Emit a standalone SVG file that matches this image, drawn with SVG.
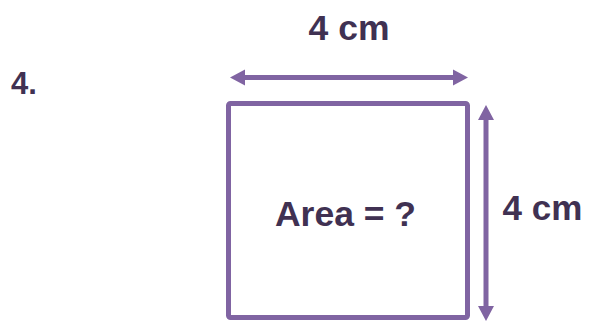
<svg xmlns="http://www.w3.org/2000/svg" width="590" height="324" viewBox="0 0 590 324">
<style>
.t{font-family:"Liberation Sans",Arial,sans-serif;font-weight:bold;fill:#403152}
.ln{stroke:#8064A2;stroke-width:5;fill:none}
.ah{fill:#8064A2}
</style>
<rect width="590" height="324" fill="#fff"/>
<text class="t" x="11" y="94" font-size="31">4.</text>
<g id="square">
<rect class="ln" x="228.5" y="103.5" width="239" height="214" rx="2"/>
<text class="t" x="345.5" y="226" font-size="35.5" text-anchor="middle">Area = ?</text>
</g>
<g id="connectors">
<g id="width-arrow">
<line class="ln" x1="243" y1="77.5" x2="455" y2="77.5"/>
<polygon class="ah" points="230,77.5 245,69.5 245,85.5"/>
<polygon class="ah" points="468,77.5 453,69.5 453,85.5"/>
</g>
<g id="height-arrow">
<line class="ln" x1="486" y1="118" x2="486" y2="308"/>
<polygon class="ah" points="486,105 478,120 494,120"/>
<polygon class="ah" points="486,321 478,306 494,306"/>
</g>
</g>
<text class="t" x="349" y="40" font-size="35.5" text-anchor="middle">4 cm</text>
<text class="t" x="542.5" y="220" font-size="35" text-anchor="middle">4 cm</text>
</svg>
